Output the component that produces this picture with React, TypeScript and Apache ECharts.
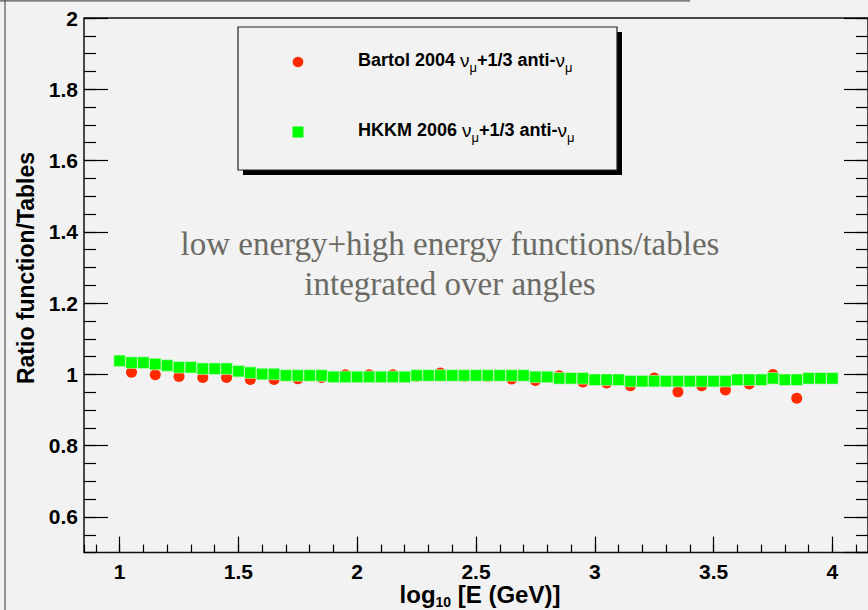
import React, { useEffect, useRef } from "react";
import * as echarts from "echarts";

// Bartol 2004: ratio of fitted functions to tables, every 0.1 in log10 E
const bartolLogE = [
  1.05, 1.15, 1.25, 1.35, 1.45, 1.55, 1.65, 1.75, 1.85, 1.95,
  2.05, 2.15, 2.25, 2.35, 2.45, 2.55, 2.65, 2.75, 2.85, 2.95,
  3.05, 3.15, 3.25, 3.35, 3.45, 3.55, 3.65, 3.75, 3.85,
];
const bartolRatio = [
  1.006, 0.999, 0.994, 0.991, 0.991, 0.986, 0.986, 0.988, 0.991, 0.999,
  0.999, 0.999, 0.995, 1.004, 0.995, 0.995, 0.987, 0.983, 0.996, 0.979,
  0.976, 0.968, 0.99, 0.951, 0.968, 0.956, 0.973, 1.0, 0.933,
];

// HKKM 2006: ratio every 0.05 in log10 E
const hkkmLogE = [
  1.0, 1.05, 1.1, 1.15, 1.2, 1.25, 1.3, 1.35, 1.4, 1.45,
  1.5, 1.55, 1.6, 1.65, 1.7, 1.75, 1.8, 1.85, 1.9, 1.95,
  2.0, 2.05, 2.1, 2.15, 2.2, 2.25, 2.3, 2.35, 2.4, 2.45,
  2.5, 2.55, 2.6, 2.65, 2.7, 2.75, 2.8, 2.85, 2.9, 2.95,
  3.0, 3.05, 3.1, 3.15, 3.2, 3.25, 3.3, 3.35, 3.4, 3.45,
  3.5, 3.55, 3.6, 3.65, 3.7, 3.75, 3.8, 3.85, 3.9, 3.95,
  4.0,
];
const hkkmRatio = [
  1.038, 1.033, 1.033, 1.029, 1.025, 1.02, 1.02, 1.016, 1.016, 1.016,
  1.009, 1.005, 1.001, 1.001, 0.997, 0.997, 0.997, 0.997, 0.993, 0.993,
  0.993, 0.993, 0.993, 0.993, 0.993, 0.997, 0.997, 0.997, 0.997, 0.997,
  0.997, 0.997, 0.997, 0.997, 0.997, 0.993, 0.993, 0.989, 0.989, 0.989,
  0.985, 0.985, 0.985, 0.981, 0.981, 0.981, 0.981, 0.981, 0.981, 0.981,
  0.981, 0.981, 0.985, 0.985, 0.985, 0.989, 0.985, 0.985, 0.989, 0.989,
  0.989,
];

const xRange = [0.85, 4.15];
const yRange = [0.5, 2];

const SANS = "Liberation Sans, Arial, Helvetica, sans-serif";
const SERIF = "Liberation Serif, Times New Roman, serif";

const RED = "#ff2a00";
const GREEN = "#00ff00";

const pairs = (xs: number[], ys: number[]) => xs.map((x, i) => [x, ys[i]]);

export default function App() {
  const ref = useRef<HTMLDivElement>(null);

  useEffect(() => {
    if (!ref.current) return;
    const chart = echarts.init(ref.current, null, { renderer: "svg" });

    const tickLabel = {
      fontFamily: SANS,
      fontWeight: "bold" as const,
      fontSize: 21,
      color: "#000",
    };

    const majorX = {
      type: "value" as const,
      min: xRange[0],
      max: xRange[1],
      splitNumber: 7,
      position: "bottom" as const,
      axisLine: { show: false, onZero: false },
      axisTick: { show: true, inside: true, length: 16, lineStyle: { color: "#000", width: 1.2 } },
      axisLabel: { ...tickLabel, margin: 8, showMinLabel: false, showMaxLabel: false },
      splitLine: { show: false },
    };
    const minorX = {
      type: "value" as const,
      min: xRange[0],
      max: xRange[1],
      splitNumber: 33,
      position: "bottom" as const,
      axisLine: { show: false, onZero: false },
      axisTick: { show: true, inside: true, length: 8, lineStyle: { color: "#000", width: 1.2 } },
      axisLabel: { show: false },
      splitLine: { show: false },
    };
    const majorY = (pos: "left" | "right", labels: boolean) => ({
      type: "value" as const,
      min: yRange[0],
      max: yRange[1],
      splitNumber: 7,
      position: pos,
      axisLine: { show: false, onZero: false },
      axisTick: { show: true, inside: true, length: 24, lineStyle: { color: "#000", width: 1.2 } },
      axisLabel: labels
        ? { ...tickLabel, margin: 6, showMinLabel: false }
        : { show: false },
      splitLine: { show: false },
    });
    const minorY = (pos: "left" | "right") => ({
      type: "value" as const,
      min: yRange[0],
      max: yRange[1],
      interval: 0.05,
      position: pos,
      axisLine: { show: false, onZero: false },
      axisTick: { show: true, inside: true, length: 12, lineStyle: { color: "#000", width: 1.2 } },
      axisLabel: { show: false },
      splitLine: { show: false },
    });

    const legendText = (name: string) =>
      `{b|${name} }{g|ν}{s|μ}{b|+1/3 anti-}{g|ν}{s|μ}`;
    const legendRich = {
      b: { fontFamily: SANS, fontWeight: "bold", fontSize: 18, fill: "#000" },
      g: { fontFamily: SANS, fontWeight: "normal", fontSize: 19, fill: "#000" },
      s: { fontFamily: SANS, fontWeight: "normal", fontSize: 13, fill: "#000", padding: [15, 0, 0, 0] },
    };

    chart.setOption({
      animation: false,
      backgroundColor: "#f2f2f2",
      grid: {
        left: 84,
        top: 18,
        width: 790,
        height: 534.6,
        show: true,
        borderColor: "#111",
        borderWidth: 1.5,
        backgroundColor: "transparent",
      },
      xAxis: [majorX, minorX],
      yAxis: [majorY("left", true), minorY("left"), majorY("right", false), minorY("right")],
      series: [
        {
          name: "Bartol 2004",
          type: "scatter",
          xAxisIndex: 0,
          yAxisIndex: 0,
          data: pairs(bartolLogE, bartolRatio),
          symbol: "circle",
          symbolSize: 11,
          itemStyle: { color: RED, opacity: 1 },
          z: 2,
        },
        {
          name: "HKKM 2006",
          type: "scatter",
          xAxisIndex: 0,
          yAxisIndex: 0,
          data: pairs(hkkmLogE, hkkmRatio),
          symbol: "rect",
          symbolSize: 11.5,
          itemStyle: { color: GREEN, opacity: 1, borderColor: "#d4f7d4", borderWidth: 0.6 },
          z: 3,
        },
      ],
      graphic: [
        // page edges
        { type: "line", shape: { x1: 5, y1: 0, x2: 5, y2: 610 }, style: { stroke: "#555", lineWidth: 1.2 }, z: 10 },
        { type: "line", shape: { x1: 0, y1: 0.8, x2: 690, y2: 0.8 }, style: { stroke: "#555", lineWidth: 1.2 }, z: 10 },
        // legend box with shadow
        { type: "rect", shape: { x: 243, y: 32, width: 379, height: 143 }, style: { fill: "#000" }, z: 20 },
        { type: "rect", shape: { x: 238, y: 27, width: 379, height: 143 }, style: { fill: "#f2f2f2", stroke: "#222", lineWidth: 1.2 }, z: 21 },
        { type: "circle", shape: { cx: 298, cy: 62, r: 5.3 }, style: { fill: RED }, z: 22 },
        { type: "rect", shape: { x: 292.5, y: 126.5, width: 11, height: 11 }, style: { fill: GREEN }, z: 22 },
        {
          type: "text", x: 358, y: 60, z: 22,
          style: { text: legendText("Bartol 2004"), rich: legendRich, verticalAlign: "middle", align: "left" },
        },
        {
          type: "text", x: 358, y: 130, z: 22,
          style: { text: legendText("HKKM 2006"), rich: legendRich, verticalAlign: "middle", align: "left" },
        },
        // annotation
        {
          type: "text", x: 450, y: 264, z: 15,
          style: {
            text: "low energy+high energy functions/tables\nintegrated over angles",
            font: `33px ${SERIF}`,
            fill: "#6b6b64",
            align: "center",
            verticalAlign: "middle",
            lineHeight: 40,
          },
        },
        // axis titles
        {
          type: "text", x: 26, y: 268, rotation: Math.PI / 2, z: 15,
          style: {
            text: "Ratio function/Tables",
            font: `bold 23px ${SANS}`,
            fill: "#000",
            align: "center",
            verticalAlign: "middle",
          },
        },
        {
          type: "text", x: 480, y: 594, z: 15,
          style: {
            text: "{b|log}{s|10}{b| [E (GeV)]}",
            rich: {
              b: { fontFamily: SANS, fontWeight: "bold", fontSize: 24, fill: "#000" },
              s: { fontFamily: SANS, fontWeight: "bold", fontSize: 14, fill: "#000", padding: [16, 0, 0, 0] },
            },
            align: "center",
            verticalAlign: "middle",
          },
        },
      ],
    });

    return () => chart.dispose();
  }, []);

  return (
    <div
      ref={ref}
      style={{ position: "fixed", left: 0, top: 0, width: 868, height: 610, overflow: "hidden" }}
    />
  );
}
